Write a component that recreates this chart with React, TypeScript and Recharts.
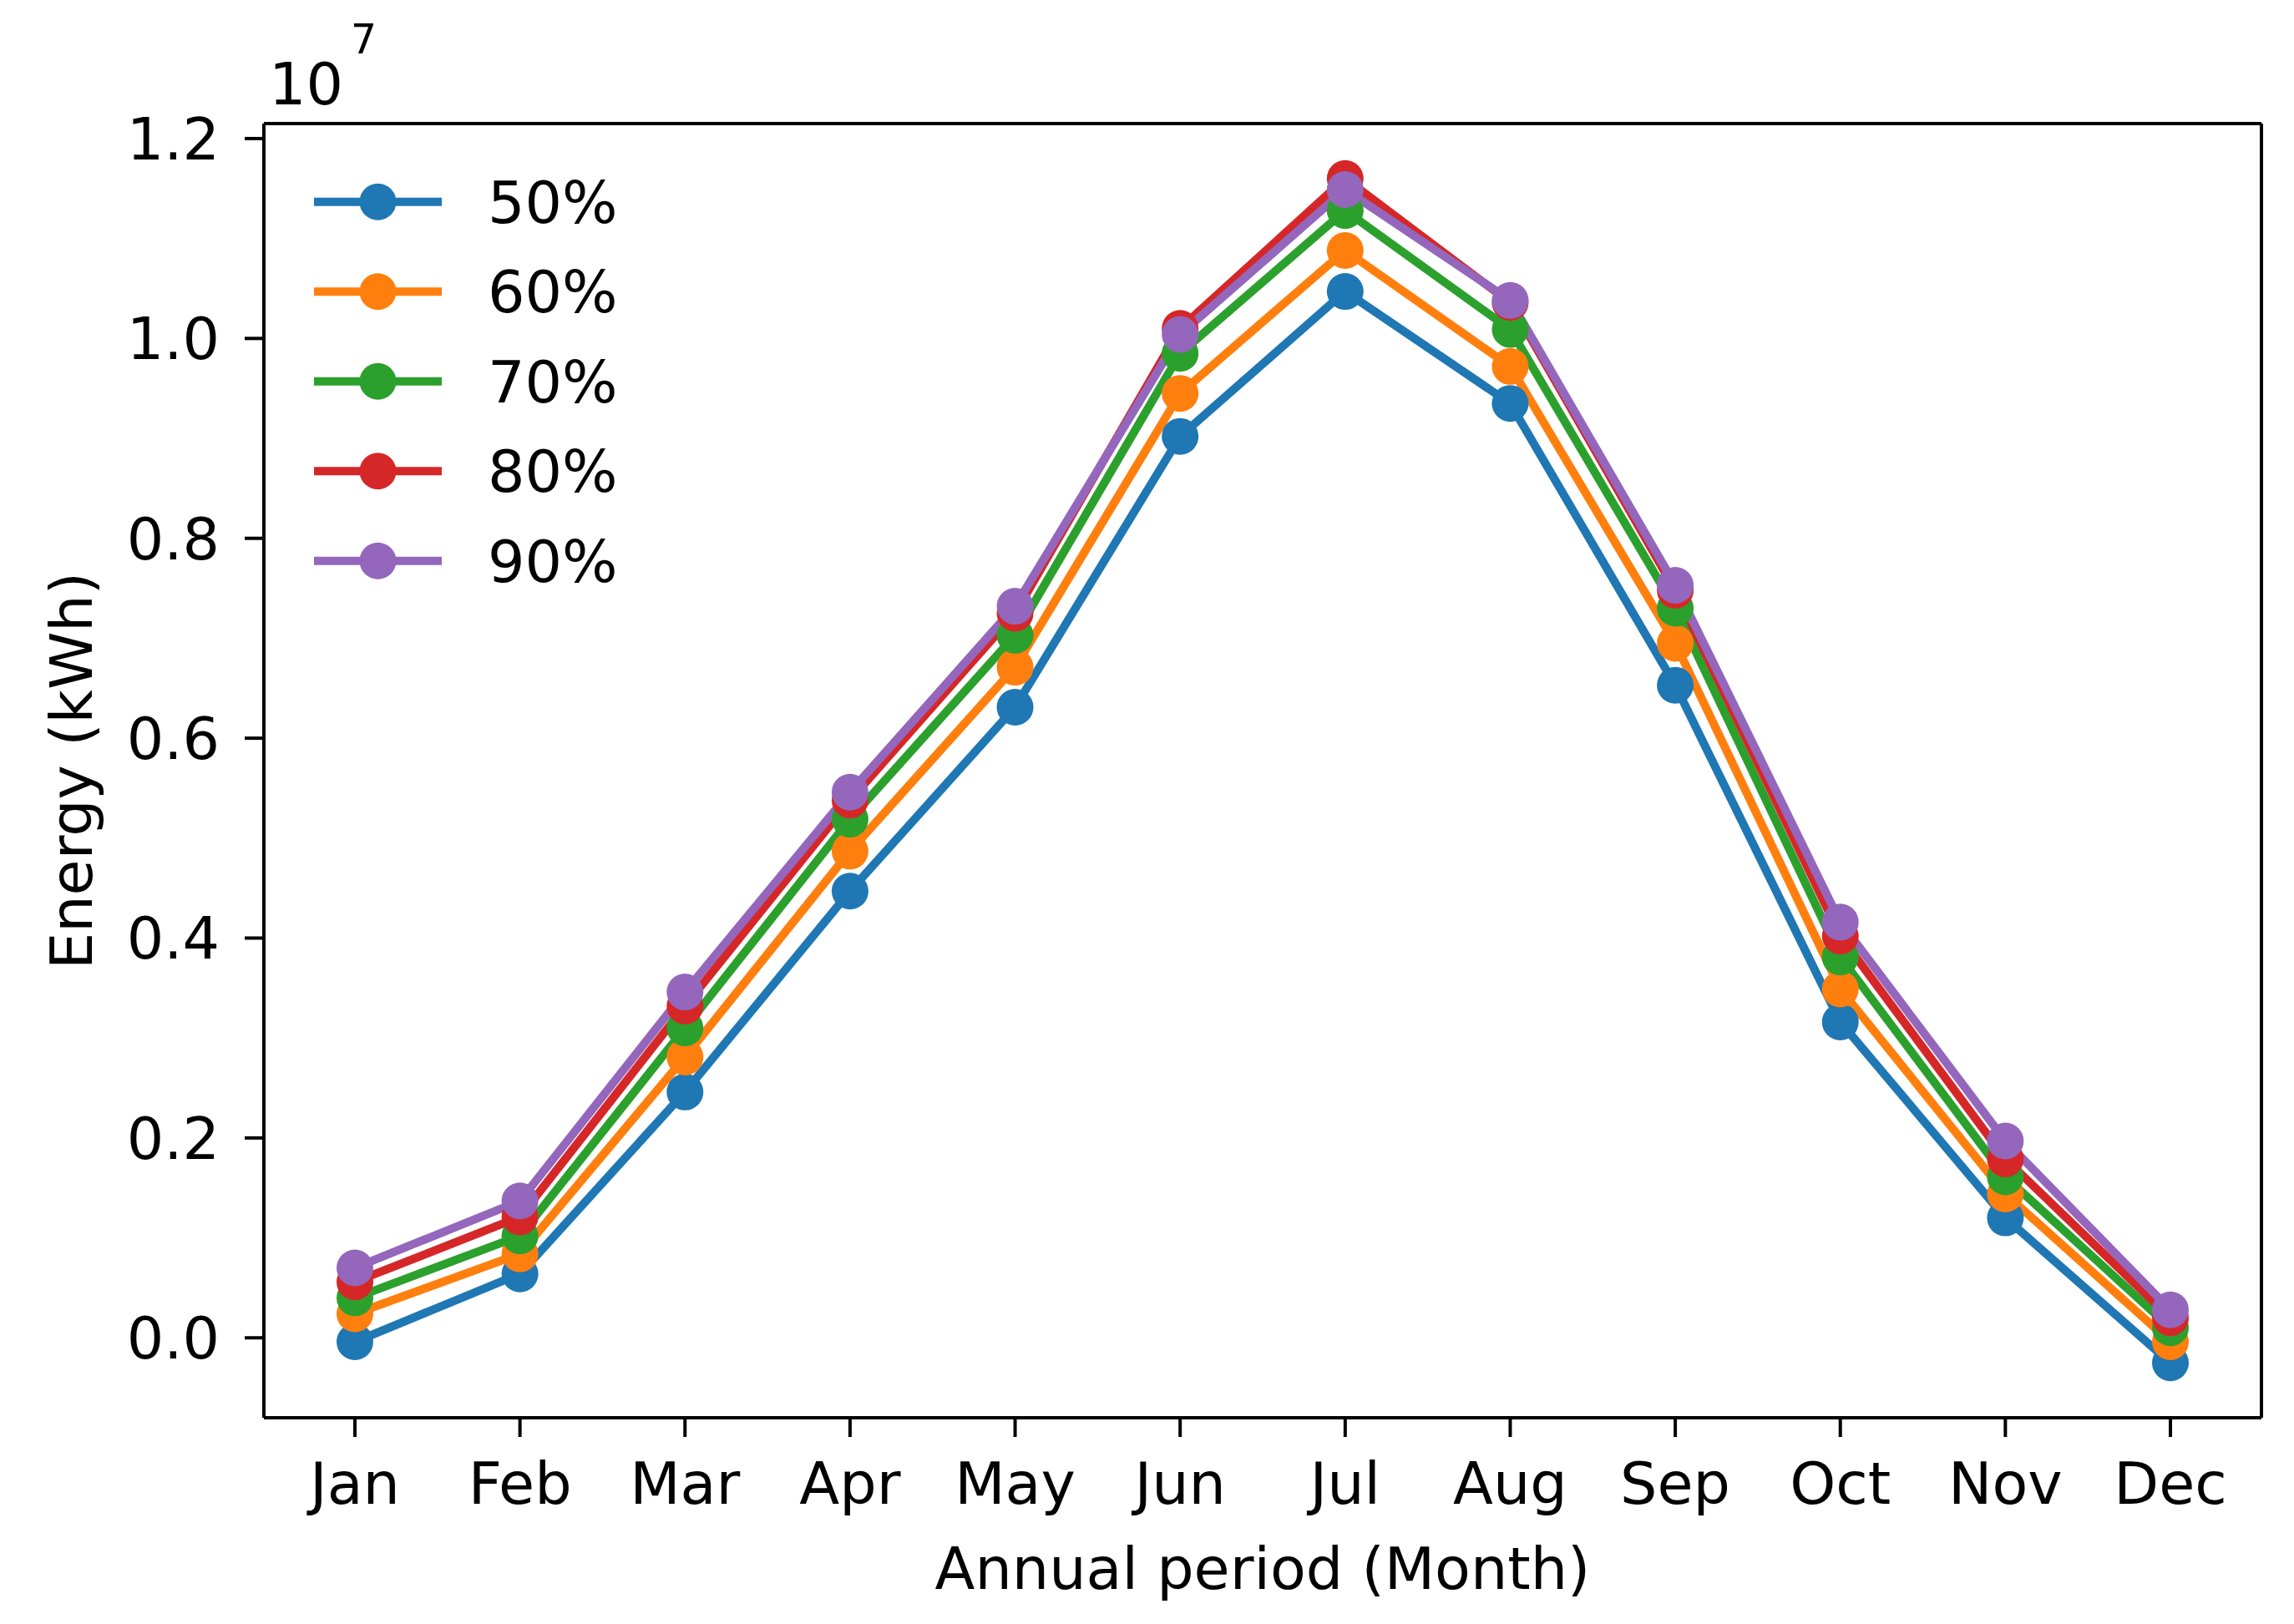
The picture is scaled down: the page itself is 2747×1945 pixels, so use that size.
import {
    LineChart,
    Line,
    XAxis,
    YAxis,
    CartesianGrid,
} from "recharts";

// values in units of 10^7 kWh
const months = ["Jan", "Feb", "Mar", "Apr", "May", "Jun", "Jul", "Aug", "Sep", "Oct", "Nov", "Dec"];
const s50 = [-0.004, 0.064, 0.246, 0.447, 0.631, 0.902, 1.047, 0.935, 0.653, 0.316, 0.120, -0.025];
const s60 = [0.024, 0.084, 0.281, 0.487, 0.671, 0.945, 1.088, 0.972, 0.695, 0.349, 0.144, -0.004];
const s70 = [0.040, 0.102, 0.310, 0.519, 0.703, 0.985, 1.128, 1.009, 0.730, 0.381, 0.161, 0.010];
const s80 = [0.056, 0.121, 0.332, 0.538, 0.725, 1.010, 1.160, 1.036, 0.748, 0.402, 0.179, 0.020];
const s90 = [0.070, 0.137, 0.346, 0.546, 0.732, 1.004, 1.149, 1.038, 0.753, 0.416, 0.197, 0.028];
const yTicks = [0, 0.2, 0.4, 0.6, 0.8, 1.0, 1.2];

const series = [
    { key: "p50", name: "50%", color: "#1f77b4", values: s50 },
    { key: "p60", name: "60%", color: "#ff7f0e", values: s60 },
    { key: "p70", name: "70%", color: "#2ca02c", values: s70 },
    { key: "p80", name: "80%", color: "#d62728", values: s80 },
    { key: "p90", name: "90%", color: "#9467bd", values: s90 },
];

const data = months.map((m, i) => {
    const row: Record<string, any> = { month: m };
    series.forEach((s) => (row[s.key] = s.values[i]));
    return row;
});

const FONT = "DejaVu Sans, sans-serif";
const FS = 70;

function LegendBox() {
    const rowH = 107.5;
    return (
        <svg width={400} height={rowH * series.length}>
            {series.map((s, i) => {
                const cy = rowH * i + rowH / 2;
                return (
                    <g key={s.key}>
                        <line x1={0} x2={153} y1={cy} y2={cy} stroke={s.color} strokeWidth={10} />
                        <circle cx={76.5} cy={cy} r={22} fill={s.color} />
                        <text x={208} y={cy + 25} fontFamily={FONT} fontSize={FS} fill="#000">
                            {s.name}
                        </text>
                    </g>
                );
            })}
        </svg>
    );
}

export default function App() {
    return (
        <div style={{ position: "absolute", left: 0, top: 0, background: "#fff" }}>
            <LineChart
                width={2747}
                height={1945}
                data={data}
                margin={{ top: 148, right: 39, left: 0, bottom: 0 }}
            >
                <CartesianGrid
                    stroke="#000"
                    strokeWidth={4}
                    fill="none"
                    horizontalCoordinatesGenerator={({ offset }: any) => [offset.top, offset.top + offset.height]}
                    verticalCoordinatesGenerator={({ offset }: any) => [offset.left, offset.left + offset.width]}
                />
                <XAxis
                    dataKey="month"
                    height={247}
                    padding={{ left: 109, right: 109 }}
                    stroke="#000"
                    strokeWidth={4}
                    tickSize={23}
                    tickMargin={30}
                    tick={{ fill: "#000", fontSize: FS, fontFamily: FONT }}
                    interval={0}
                    label={{
                        content: () => (
                            <text x={1512} y={1903} textAnchor="middle" fontFamily={FONT} fontSize={FS} fill="#000">
                                Annual period (Month)
                            </text>
                        ),
                    }}
                />
                <YAxis
                    width={316}
                    domain={[-0.08, 1.215]}
                    ticks={yTicks}
                    allowDataOverflow
                    stroke="#000"
                    strokeWidth={4}
                    tickSize={23}
                    tickMargin={30}
                    tickFormatter={(v: number) => v.toFixed(1)}
                    tick={{ fill: "#000", fontSize: FS, fontFamily: FONT }}
                    label={{
                        content: () => (
                            <g>
                                <text
                                    x={110}
                                    y={923}
                                    textAnchor="middle"
                                    transform="rotate(-90, 110, 923)"
                                    fontFamily={FONT}
                                    fontSize={FS}
                                    fill="#000"
                                >
                                    Energy (kWh)
                                </text>
                                <text x={322} y={125} fontFamily={FONT} fontSize={FS} fill="#000">
                                    10
                                    <tspan x={420} y={64} fontSize={49}>7</tspan>
                                </text>
                            </g>
                        ),
                    }}
                />
                {series.map((s) => (
                    <Line
                        key={s.key}
                        dataKey={s.key}
                        name={s.name}
                        type="linear"
                        stroke={s.color}
                        strokeWidth={10}
                        dot={{ r: 22, fill: s.color, stroke: s.color, strokeWidth: 0 }}
                        activeDot={false}
                        isAnimationActive={false}
                    />
                ))}
            </LineChart>
            <div style={{ position: "absolute", left: 376, top: 188 }}>
                <LegendBox />
            </div>
        </div>
    );
}
